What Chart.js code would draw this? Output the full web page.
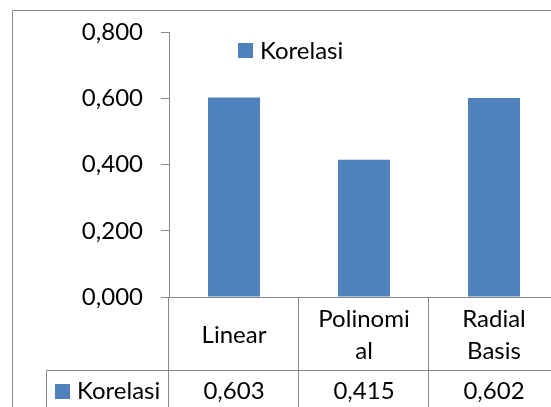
<!DOCTYPE html>
<html>
<head>
<meta charset="utf-8">
<script src="https://cdn.jsdelivr.net/npm/chart.js@4/dist/chart.umd.min.js"></script>
<style>
  html, body { margin: 0; padding: 0; background: #fff; overflow: hidden; }
  #wrap { position: absolute; left: 0; top: 0; width: 600px; height: 407px; }
</style>
</head>
<body>
<div id="wrap"><canvas id="chart" width="600" height="407"></canvas></div>
<script>
// Correlation per SVR kernel
const categories = ['Linear', 'Polinomial', 'Radial Basis'];
const headerLabels = [['Linear'], ['Polinomi', 'al'], ['Radial', 'Basis']];
const seriesName = 'Korelasi';
const korelasi = [0.603, 0.415, 0.602];
const yTicks = [0, 0.2, 0.4, 0.6, 0.8];

const BLUE = '#4F81BD';
const LINE = '#898989';
const FONT = 'Lato, "Open Sans", sans-serif';
const FS = 24;

const fmt = v => v.toFixed(3).replace('.', ',');

// Excel-style frame, legend and data table drawn around the plot
const tablePlugin = {
  id: 'dataTable',
  afterDraw(chart) {
    const ctx = chart.ctx;
    const area = chart.chartArea;
    const xs = chart.scales.x;
    const W = chart.width, H = chart.height;
    const n = categories.length;
    const colW = (area.right - area.left) / n;
    const headerBottom = area.bottom + 73;
    const tableLeft = 46;

    ctx.save();
    ctx.strokeStyle = LINE;
    ctx.lineWidth = 1;

    // outer chart border
    ctx.beginPath();
    ctx.moveTo(12.5, H);
    ctx.lineTo(12.5, 10.5);
    ctx.lineTo(W, 10.5);
    ctx.stroke();

    // category axis line (with the zero tick to its left)
    const yb = Math.round(area.bottom) + 0.5;
    ctx.beginPath();
    ctx.moveTo(area.left - 8, yb);
    ctx.lineTo(W, yb);
    ctx.stroke();

    // table grid: inner column separators only
    const xl = Math.round(area.left) - 0.5;
    ctx.beginPath();
    ctx.moveTo(xl, area.bottom);
    ctx.lineTo(xl, H);
    for (let i = 1; i < n; i++) {
      const bx = Math.round(area.left + i * colW) - 0.5;
      ctx.moveTo(bx, area.bottom);
      ctx.lineTo(bx, H);
    }
    const yr = Math.round(headerBottom) + 0.5;
    ctx.moveTo(tableLeft + 0.5, yr);
    ctx.lineTo(W, yr);
    ctx.moveTo(tableLeft + 0.5, yr);
    ctx.lineTo(tableLeft + 0.5, H);
    ctx.stroke();

    // data row: legend key, series name and values
    const rowMid = 391;
    ctx.fillStyle = BLUE;
    ctx.fillRect(55, 384, 15, 15);
    ctx.fillStyle = '#000';
    ctx.font = FS + 'px ' + FONT;
    ctx.textBaseline = 'middle';
    ctx.textAlign = 'left';
    ctx.fillText(seriesName, 77, rowMid);
    ctx.textAlign = 'center';
    korelasi.forEach((v, i) => {
      ctx.fillText(fmt(v), xs.getPixelForValue(i), rowMid);
    });

    // legend inside the plot
    ctx.fillStyle = BLUE;
    ctx.fillRect(238, 43, 15, 15);
    ctx.fillStyle = '#000';
    ctx.textAlign = 'left';
    ctx.fillText(chart.data.datasets[0].label, 260, 51);
    ctx.restore();
  }
};

new Chart(document.getElementById('chart'), {
  type: 'bar',
  data: {
    labels: headerLabels,
    datasets: [{
      label: seriesName,
      data: korelasi,
      backgroundColor: BLUE,
      borderWidth: 0,
      categoryPercentage: 1.0,
      barPercentage: 0.4
    }]
  },
  options: {
    responsive: false,
    animation: false,
    layout: { padding: { left: 0, top: 26, right: 41, bottom: 0 } },
    plugins: { legend: { display: false }, tooltip: { enabled: false } },
    scales: {
      x: {
        offset: true,
        grid: { display: false, drawTicks: false },
        border: { display: false },
        ticks: {
          color: '#000',
          font: { family: FONT, size: FS, lineHeight: 32 / FS },
          crossAlign: 'center',
          padding: 22,
          maxRotation: 0,
          autoSkip: false
        },
        afterFit(scale) { scale.height = 110; }
      },
      y: {
        min: 0,
        max: 0.8,
        afterBuildTicks(scale) { scale.ticks = yTicks.map(v => ({ value: v })); },
        grid: { drawOnChartArea: false, drawTicks: true, tickLength: 8, color: LINE },
        border: { display: true, color: LINE },
        ticks: {
          color: '#000',
          font: { family: FONT, size: FS },
          padding: 18,
          callback: v => fmt(v)
        },
        afterFit(scale) { scale.width = 169; }
      }
    }
  },
  plugins: [tablePlugin]
});
</script>
</body>
</html>
